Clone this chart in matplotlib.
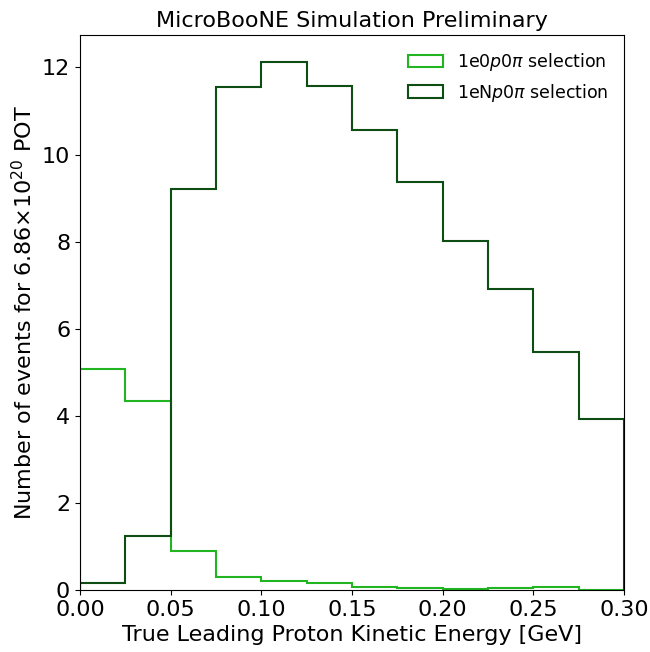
import numpy as np
import matplotlib.pyplot as plt

# bin edges in GeV
bin_edges = [0.0, 0.025, 0.05, 0.075, 0.1, 0.125, 0.15, 0.175, 0.2, 0.225, 0.25, 0.275, 0.3]

# event counts per bin
zero_p = [5.08, 4.35, 0.89, 0.30, 0.21, 0.17, 0.07, 0.04, 0.03, 0.04, 0.06, 0.01]
n_p = [0.16, 1.24, 9.22, 11.56, 12.13, 11.58, 10.56, 9.36, 8.02, 6.91, 5.46, 3.92]

labels = [r'1e0$p$0$\pi$ selection', r'1eN$p$0$\pi$ selection']
colors = ['#22b522', '#0e4d14']

fig = plt.figure(figsize=(6.5, 6.52), dpi=100)
ax = fig.add_axes([0.123, 0.095, 0.837, 0.851])

left = np.array(bin_edges[:-1])
ax.hist(left, bins=bin_edges, weights=zero_p, histtype='step', color=colors[0],
        linewidth=1.5, label=labels[0])
ax.hist(left, bins=bin_edges, weights=n_p, histtype='step', color=colors[1],
        linewidth=1.5, label=labels[1])

ax.set_xlim(0, 0.3)
ax.set_ylim(0, 12.74)
ax.set_xticks([0.0, 0.05, 0.10, 0.15, 0.20, 0.25, 0.30])
ax.set_xticklabels(['0.00', '0.05', '0.10', '0.15', '0.20', '0.25', '0.30'])
ax.tick_params(labelsize=16)

ax.set_xlabel('True Leading Proton Kinetic Energy [GeV]', fontsize=16)
ax.set_ylabel(r'Number of events for 6.86$\times$10$^{20}$ POT', fontsize=16)
ax.set_title('MicroBooNE Simulation Preliminary', fontsize=16)

ax.legend(frameon=False, fontsize=12.5, loc='upper right')

fig.savefig('out.png', dpi=100)
